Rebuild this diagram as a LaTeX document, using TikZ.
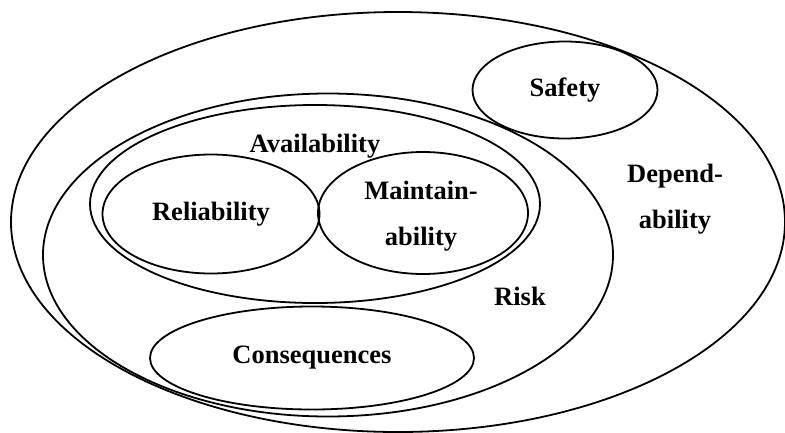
\documentclass[tikz,border=0pt]{standalone}
\usepackage{fontspec}
\setmainfont{Liberation Serif}
\usetikzlibrary{shapes.geometric}

\begin{document}
\begin{tikzpicture}[x=1pt,y=-1pt,
  set/.style={draw,ellipse,line width=1.8pt,inner sep=0pt},
  lab/.style={font=\fontsize{26.5}{46}\selectfont\bfseries,align=center,inner sep=0pt}]
\useasboundingbox (0,0) rectangle (785,432);
% ellipses
\node (dep) [set,minimum width=774pt,minimum height=420pt] at (398,222) {};
\node (risk) [set,minimum width=570pt,minimum height=323pt] at (328,255) {};
\node (avail) [set,minimum width=450pt,minimum height=198pt] at (315,204) {};
\node (rel) [set,lab,minimum width=217pt,minimum height=119pt] at (211,214) {Reliability};
\node (maint) [set,minimum width=210pt,minimum height=122pt] at (423,213) {};
\node (safety) [set,lab,minimum width=185pt,minimum height=97pt] at (565,90) {Safety};
\node (cons) [set,lab,minimum width=324pt,minimum height=103pt] at (312,358) {Consequences};
% labels
\node (availlab) [lab] at (315,146) {Availability};
\node (maintlab) [lab] at (421,216) {Maintain-\\ability};
\node (deplab) [lab] at (675,199) {Depend-\\ability};
\node (risklab) [lab] at (520,296) {Risk};
\end{tikzpicture}
\end{document}
